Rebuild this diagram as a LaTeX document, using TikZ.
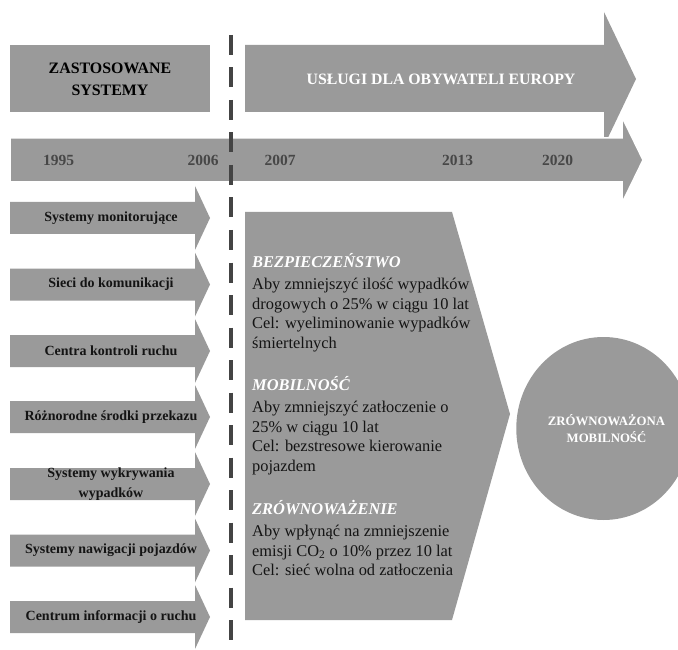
\documentclass[tikz,border=0pt]{standalone}
\usepackage{fontspec}
\setmainfont{Liberation Serif}
\usetikzlibrary{shapes.geometric}
\definecolor{boxgray}{HTML}{9A9A9A}
\definecolor{yeargray}{HTML}{474747}
\definecolor{dashgray}{HTML}{444444}
\definecolor{inkdark}{HTML}{141414}
\begin{document}
\begin{tikzpicture}[x=1pt,y=-1pt,
  shapefill/.style={fill=boxgray},
  armlabel/.style={inner sep=0pt, align=center, text=inkdark,
    font=\fontsize{14}{20}\selectfont\bfseries},
  yearlabel/.style={inner sep=0pt, text=yeargray,
    font=\fontsize{15.5}{18}\selectfont\bfseries},
  sectext/.style={inner sep=0pt, anchor=base west, align=left, text=inkdark,
    font=\fontsize{16.4}{19.5}\selectfont},
  dashline/.style={draw=dashgray, line width=3.5pt, dash pattern=on 20pt off 12.5pt}
]
\useasboundingbox (0,0) rectangle (678,650);

% top right arrow
\fill[shapefill] (245,45) -- (604,45) -- (604,12) -- (636,79) -- (604,146)
  -- (604,112) -- (245,112) -- cycle;
% top left box
\fill[shapefill] (10,45) rectangle (210,112);
% timeline arrow
\filldraw[shapefill, draw=white, line width=1.5pt] (10,138) -- (622,138) -- (622,117)
  -- (643,160) -- (622,203) -- (622,182) -- (10,182) -- cycle;

\node[inner sep=0pt, align=center, text=black,
  font=\fontsize{15.9}{22}\selectfont\bfseries] (zast) at (110,79) {ZASTOSOWANE\\SYSTEMY};
\node[inner sep=0pt, text=white,
  font=\fontsize{15.8}{18}\selectfont\bfseries] (uslugi) at (441,79) {USŁUGI DLA OBYWATELI EUROPY};

\node[yearlabel] (y1995) at (58.5,160) {1995};
\node[yearlabel] (y2006) at (203,160) {2006};
\node[yearlabel] (y2007) at (280,160) {2007};
\node[yearlabel] (y2013) at (457.5,160) {2013};
\node[yearlabel] (y2020) at (557.5,160) {2020};

% left arrows
\foreach \yy/\nm/\txt in {218/s1/{Systemy monitorujące},
    284.5/s2/{Sieci do komunikacji},
    351/s3/{Centra kontroli ruchu},
    417/s4/{Różnorodne środki przekazu},
    484/s5/{Systemy wykrywania\\wypadków},
    550.5/s6/{Systemy nawigacji pojazdów},
    617/s7/{Centrum informacji o ruchu}} {
  \fill[shapefill] (10,\yy-16) -- (195,\yy-16) -- (195,\yy-32) -- (210,\yy)
    -- (195,\yy+32) -- (195,\yy+16) -- (10,\yy+16) -- cycle;
  \node[armlabel] (\nm) at (111,\yy) {\txt};
}

% big pentagon
\fill[shapefill] (245,212) -- (452,212) -- (510,414) -- (452,620) -- (245,620) -- cycle;

% sections: anchor base west is the baseline of the last line
\node[sectext] (sec1) at (252,348) {{\color{white}\bfseries\itshape BEZPIECZEŃSTWO}\\[3pt]
  Aby zmniejszyć ilość wypadków\\
  drogowych o 25\% w ciągu 10 lat\\
  Cel: wyeliminowanie wypadków\\
  śmiertelnych};
\node[sectext] (sec2) at (252,471) {{\color{white}\bfseries\itshape MOBILNOŚĆ}\\[3pt]
  Aby zmniejszyć zatłoczenie o\\
  25\% w ciągu 10 lat\\
  Cel: bezstresowe kierowanie\\
  pojazdem};
\node[sectext] (sec3) at (252,575.5) {{\color{white}\bfseries\itshape ZRÓWNOWAŻENIE}\\[3pt]
  Aby wpłynąć na zmniejszenie\\
  emisji CO\textsubscript{2} o 10\% przez 10 lat\\
  Cel: sieć wolna od zatłoczenia};

% ellipse
\node[ellipse, shapefill, inner sep=0pt, minimum width=147pt, minimum height=183pt,
  align=center, text=white, font=\fontsize{12.8}{17}\selectfont\bfseries]
  (circ) at (603.5,428.5) {\hspace*{6pt}ZRÓWNOWAŻONA\\\hspace*{6pt}MOBILNOŚĆ};

% dashed divider
\coordinate (dtop) at (231,35);
\coordinate (dbot) at (231,640);
\draw[dashline] (dtop) -- (dbot);
\end{tikzpicture}
\end{document}
